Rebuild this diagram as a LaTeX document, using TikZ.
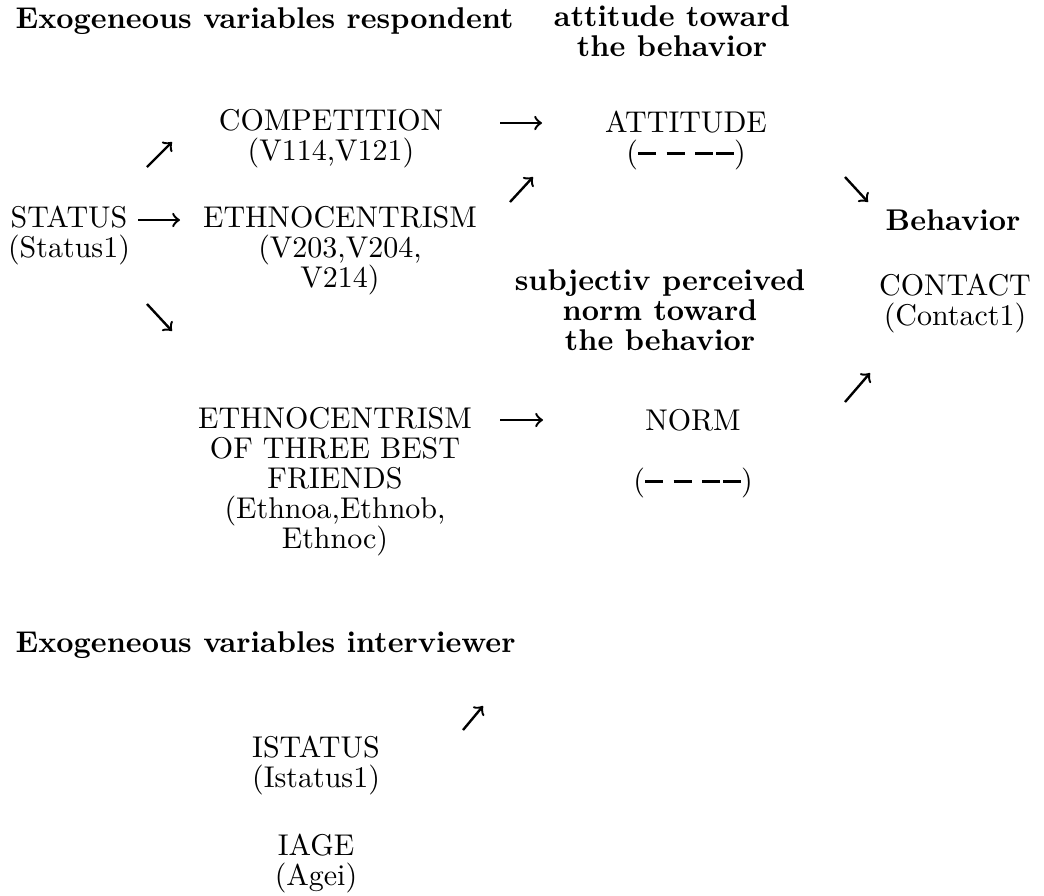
\documentclass[tikz,border=0pt]{standalone}
\newcommand{\dashmark}{\rule[2.4pt]{6pt}{0.9pt}}
\newcommand{\blanks}{(\dashmark\hspace{3.5pt}\dashmark\hspace{3.5pt}\dashmark\hspace{1pt}\dashmark)}
\begin{document}
\begin{tikzpicture}[x=0.3333pt,y=-0.3333pt]
    \tikzstyle{every node}+=[inner sep=0pt, align=center, anchor=base, font=\fontsize{10pt}{10pt}\selectfont]
    \tikzstyle{head}=[font=\fontsize{10pt}{10pt}\selectfont\bfseries]
    \tikzstyle{arr}=[->, line width=0.8pt]
    \useasboundingbox (0,0) rectangle (1044,895);
    % respondent side (base = last line)
    \node [head, anchor=base west] (hresp) at (15,28) {Exogeneous variables respondent};
    \node [head] (hatt) at (672,56) {attitude toward\\the behavior};
    \node (status) at (69,257) {STATUS\\(Status1)};
    \node (comp) at (331,160) {COMPETITION\\(V114,V121)};
    \node (ethno) at (340,287) {ETHNOCENTRISM\\(V203,V204,\\V214)};
    \node (friends) at (335,548) {ETHNOCENTRISM\\OF THREE BEST\\FRIENDS\\(Ethnoa,Ethnob,\\Ethnoc)};
    \node (att) at (686,162) {ATTITUDE\\\blanks};
    \node [head] (hnorm) at (660,350) {subjectiv perceived\\norm toward\\the behavior};
    \node (norm) at (693,490) {NORM\\[10pt]\blanks};
    \node [head] (hbeh) at (953,230) {Behavior};
    \node (contact) at (955,325) {CONTACT\\(Contact1)};
    % interviewer side
    \node [head, anchor=base west] (hint) at (15,652) {Exogeneous variables interviewer};
    \node (istatus) at (316,787) {ISTATUS\\(Istatus1)};
    \node (iage) at (316,885) {IAGE\\(Agei)};
    % arrows
    \coordinate (a1s) at (138,220);  \coordinate (a1e) at (180,220);
    \coordinate (a2s) at (500,123);  \coordinate (a2e) at (542,123);
    \coordinate (a3s) at (500,420);  \coordinate (a3e) at (543,420);
    \coordinate (a4s) at (147,167);  \coordinate (a4e) at (172,142);
    \coordinate (a5s) at (147,304);  \coordinate (a5e) at (172,331);
    \coordinate (a6s) at (510,202);  \coordinate (a6e) at (533,177);
    \coordinate (a7s) at (845,177);  \coordinate (a7e) at (868,202);
    \coordinate (a8s) at (845,402);  \coordinate (a8e) at (870,373);
    \coordinate (a9s) at (463,730);  \coordinate (a9e) at (483,706);
    \draw [arr] (a1s) -- (a1e);
    \draw [arr] (a2s) -- (a2e);
    \draw [arr] (a3s) -- (a3e);
    \draw [arr] (a4s) -- (a4e);
    \draw [arr] (a5s) -- (a5e);
    \draw [arr] (a6s) -- (a6e);
    \draw [arr] (a7s) -- (a7e);
    \draw [arr] (a8s) -- (a8e);
    \draw [arr] (a9s) -- (a9e);
\end{tikzpicture}
\end{document}
